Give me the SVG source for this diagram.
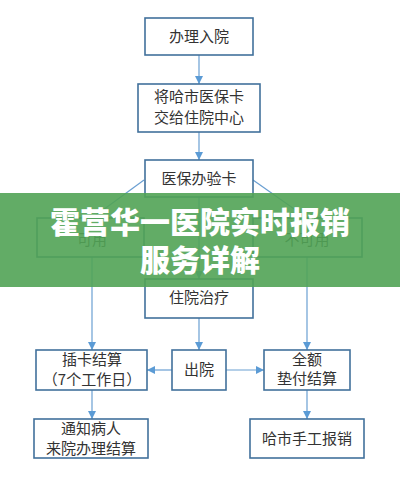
<svg xmlns="http://www.w3.org/2000/svg" width="400" height="479" viewBox="0 0 400 479">
<defs>
<style>
.box{fill:#fff;stroke:#41719c;stroke-width:1.6}
.t{font-family:"Noto Sans CJK SC","Noto Sans",sans-serif;font-size:15px;fill:#333;text-anchor:middle}
.ln{stroke:#6a9fd2;stroke-width:1.2;fill:none}
.ttl{font-family:"Noto Sans CJK SC","Noto Sans",sans-serif;font-size:30px;font-weight:900;fill:#fff;text-anchor:middle}
</style>
<marker id="ah" viewBox="0 0 10 10" refX="10" refY="5" markerWidth="8" markerHeight="8" markerUnits="userSpaceOnUse" orient="auto">
<path d="M0,0 L10,5 L0,10 z" fill="#5b9bd5"/>
</marker>
</defs>
<rect width="400" height="479" fill="#fff"/>
<g id="connectors">
<line class="ln" x1="199" y1="55" x2="199" y2="84" marker-end="url(#ah)"/>
<line class="ln" x1="199" y1="132" x2="199" y2="160" marker-end="url(#ah)"/>
<line class="ln" x1="199" y1="197" x2="199" y2="279" marker-end="url(#ah)"/>
<line class="ln" x1="144" y1="180" x2="92" y2="218"/>
<line class="ln" x1="253" y1="180" x2="307" y2="218"/>
<line class="ln" x1="92" y1="257" x2="92" y2="350" marker-end="url(#ah)"/>
<line class="ln" x1="307" y1="257" x2="307" y2="350" marker-end="url(#ah)"/>
<line class="ln" x1="199" y1="318" x2="199" y2="350" marker-end="url(#ah)"/>
<line class="ln" x1="172" y1="370" x2="147" y2="370" marker-end="url(#ah)"/>
<line class="ln" x1="226" y1="370" x2="264" y2="370" marker-end="url(#ah)"/>
<line class="ln" x1="92" y1="390" x2="92" y2="419" marker-end="url(#ah)"/>
<line class="ln" x1="307" y1="390" x2="307" y2="419" marker-end="url(#ah)"/>
</g>
<g id="n1"><rect class="box" x="145" y="18" width="108" height="37"/><text class="t" x="199" y="42">办理入院</text></g>
<g id="n2"><rect class="box" x="138" y="84" width="122" height="48"/><text class="t" x="199" y="102">将哈市医保卡</text><text class="t" x="199" y="123">交给住院中心</text></g>
<g id="n3"><rect class="box" x="145" y="160" width="108" height="37"/><text class="t" x="199" y="184">医保办验卡</text></g>
<g id="n4"><rect class="box" x="37" y="218" width="107" height="39"/><text class="t" x="92" y="245">可用</text></g>
<g id="n5"><rect class="box" x="253" y="218" width="109" height="39"/><text class="t" x="307" y="245">不可用</text></g>
<g id="n6"><rect class="box" x="145" y="279" width="108" height="39"/><text class="t" x="199" y="303">住院治疗</text></g>
<g id="n7"><rect class="box" x="36" y="350" width="111" height="40"/><text class="t" x="92" y="365">插卡结算</text><text class="t" x="92" y="385" font-size="14.5">（7个工作日）</text></g>
<g id="n8"><rect class="box" x="172" y="350" width="54" height="40"/><text class="t" x="199" y="375">出院</text></g>
<g id="n9"><rect class="box" x="264" y="350" width="86" height="40"/><text class="t" x="307" y="365">全额</text><text class="t" x="307" y="384">垫付结算</text></g>
<g id="n10"><rect class="box" x="34" y="419" width="114" height="39"/><text class="t" x="91" y="434">通知病人</text><text class="t" x="91" y="454">来院办理结算</text></g>
<g id="n11"><rect class="box" x="250" y="419" width="114" height="39"/><text class="t" x="307" y="444">哈市手工报销</text></g>
<g id="banner">
<rect x="0" y="193" width="400" height="94" fill="#51a355" opacity="0.9"/>
<text class="ttl" x="200" y="233">霍营华一医院实时报销</text>
<text class="ttl" x="200" y="271">服务详解</text>
</g>
</svg>
